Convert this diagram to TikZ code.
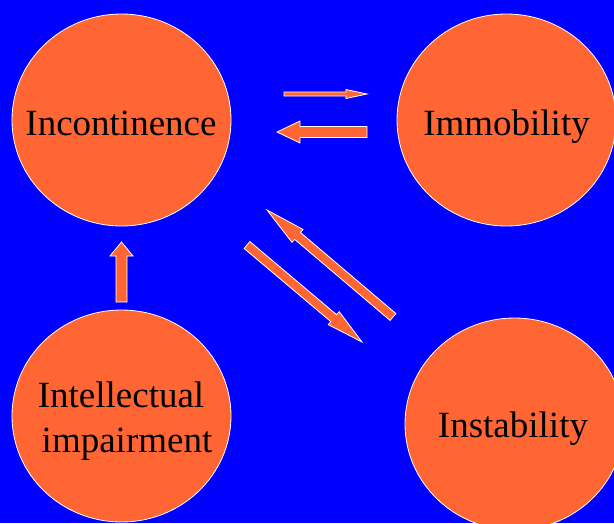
\documentclass[tikz,border=0pt]{standalone}
\usepackage{fontspec}
\setmainfont{Liberation Serif}
\usetikzlibrary{calc,shapes.geometric}
\definecolor{bgblue}{RGB}{0,0,255}
\definecolor{circorange}{RGB}{255,102,51}
\tikzset{
  bubble/.style={ellipse, fill=circorange, draw=white, line width=0.8pt,
    minimum width=219pt, minimum height=212pt, inner sep=0pt},
  bubbletext/.style={inner sep=0pt, font=\fontsize{37}{45}\selectfont, align=center, text=black},
  blockarrow/.style={fill=circorange, draw=white, line width=0.8pt, line join=miter}
}
% block arrow from #1 to #2: shaft half width #3, head half width #4, head length #5
\newcommand\blockarr[5]{%
  \coordinate (ba-h) at ($(#2)!#5!(#1)$);
  \draw[blockarrow] ($(#1)!#3!90:(#2)$) -- ($(ba-h)!#3!90:(#2)$) -- ($(ba-h)!#4!90:(#2)$)
    -- (#2) -- ($(ba-h)!#4!-90:(#2)$) -- ($(ba-h)!#3!-90:(#2)$) -- ($(#1)!#3!-90:(#2)$) -- cycle;}
\begin{document}
\begin{tikzpicture}[x=1pt,y=-1pt]
\fill[bgblue] (0,0) rectangle (614,523);
\useasboundingbox (0,0) rectangle (614,523);
% circles
\node[bubble] (inc) at (121.5,120) {};
\node[bubble] (imm) at (506.5,120) {};
\node[bubble] (int) at (121.5,416) {};
\node[bubble] (ins) at (514.5,424) {};
% labels
\node[bubbletext, anchor=base] (inc-t) at (121,135) {Incontinence};
\node[bubbletext, anchor=base] (imm-t) at (506.5,135) {Immobility};
\node[bubbletext, anchor=base] (ins-t) at (513,437) {Instability};
\node[bubbletext, anchor=base] (int-t) at (121,452) {Intellectual\\\hspace*{12pt}impairment};
% arrow end points
\coordinate (a1s) at (284,94);   \coordinate (a1e) at (367,94);
\coordinate (a2s) at (367,132);  \coordinate (a2e) at (277,132);
\coordinate (a3s) at (121.5,302);\coordinate (a3e) at (121.5,242);
\coordinate (a4s) at (393,317);  \coordinate (a4e) at (267,210);
\coordinate (a5s) at (247,245);  \coordinate (a5e) at (362,342);
\blockarr{a1s}{a1e}{2pt}{4.5pt}{21pt}
\blockarr{a2s}{a2e}{5.5pt}{11pt}{23pt}
\blockarr{a3s}{a3e}{5.5pt}{11.5pt}{14pt}
\blockarr{a4s}{a4e}{4.5pt}{8.5pt}{40pt}
\blockarr{a5s}{a5e}{4.5pt}{8.5pt}{37pt}
\end{tikzpicture}
\end{document}
